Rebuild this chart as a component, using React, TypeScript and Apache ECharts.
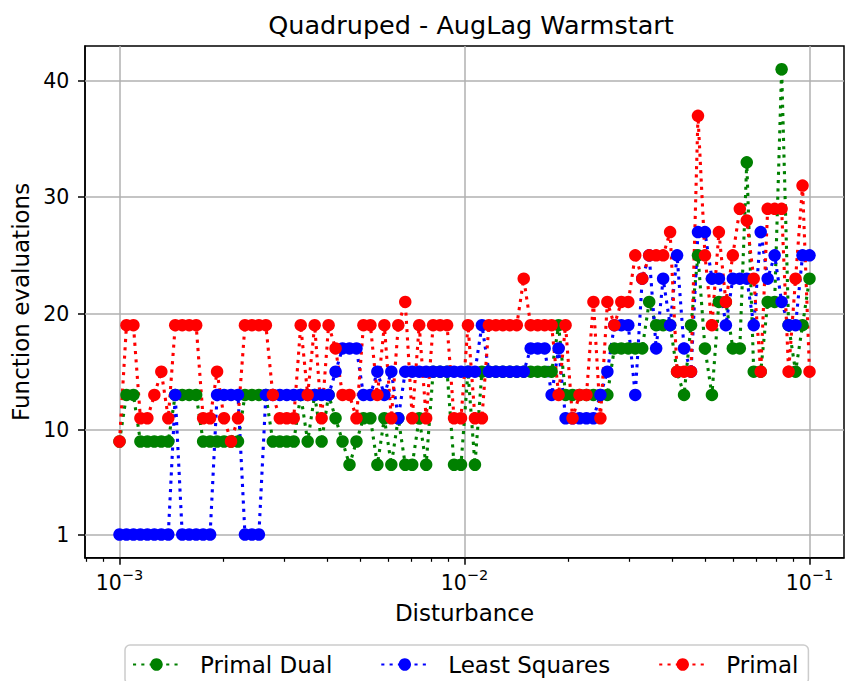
import React, { useEffect, useRef } from "react";
import * as echarts from "echarts";

// Disturbance grid: 100 log-spaced samples from 1e-3 to 1e-1
const nPoints = 100;
const disturbance: number[] = Array.from({ length: nPoints }, (_, i) => Math.pow(10, -3 + (2 * i) / (nPoints - 1)));

const primalDual = [
  9, 13, 13, 9, 9, 9, 9, 9, 13, 13,
  13, 13, 9, 9, 9, 9, 9, 9, 13, 13,
  13, 13, 9, 9, 9, 9, 13, 9, 13, 9,
  13, 11, 9, 7, 9, 11, 11, 7, 11, 7,
  11, 7, 7, 11, 7, 15, 15, 15, 7, 7,
  15, 7, 15, 15, 15, 15, 15, 15, 15, 15,
  15, 15, 15, 19, 13, 13, 13, 13, 13, 13,
  13, 17, 17, 17, 17, 17, 21, 19, 19, 19,
  15, 13, 19, 25, 17, 13, 21, 21, 17, 17,
  33, 15, 15, 21, 21, 41, 19, 15, 19, 23,
];

const leastSquares = [
  1, 1, 1, 1, 1, 1, 1, 1, 13, 1,
  1, 1, 1, 1, 13, 13, 13, 13, 1, 1,
  1, 13, 13, 13, 13, 13, 13, 13, 13, 13,
  13, 15, 17, 17, 17, 13, 13, 15, 13, 15,
  11, 15, 15, 15, 15, 15, 15, 15, 15, 15,
  15, 15, 19, 15, 15, 15, 15, 15, 15, 17,
  17, 17, 13, 17, 11, 11, 11, 11, 11, 13,
  15, 19, 19, 19, 13, 23, 25, 17, 23, 19,
  25, 17, 15, 27, 27, 23, 23, 19, 23, 23,
  23, 19, 27, 23, 25, 21, 19, 19, 25, 25,
];

const primal = [
  9, 19, 19, 11, 11, 13, 15, 11, 19, 19,
  19, 19, 11, 11, 15, 11, 9, 11, 19, 19,
  19, 19, 13, 11, 11, 11, 19, 13, 19, 11,
  19, 17, 13, 13, 11, 19, 19, 13, 19, 11,
  19, 21, 11, 19, 11, 19, 19, 19, 11, 11,
  19, 11, 11, 19, 19, 19, 19, 19, 23, 19,
  19, 19, 19, 13, 19, 11, 13, 13, 21, 11,
  21, 19, 21, 21, 25, 23, 25, 25, 25, 27,
  15, 15, 15, 37, 25, 19, 27, 21, 25, 29,
  28, 23, 15, 29, 29, 29, 15, 23, 31, 15,
];

const seriesNames = ["Primal Dual", "Least Squares", "Primal"];
const seriesColors = ["#008000", "#0000ff", "#ff0000"];
const yTicks = [1, 10, 20, 30, 40];
const xTickExponents = [-3, -2, -1];
const xMinorDecades = [-4, -3, -2];
const xMinorMultipliers = [2, 3, 4, 5, 6, 7, 8, 9];

const FONT = "DejaVu Sans";
const X_MIN = -3.1;
const X_MAX = -0.9;

const minorTicks: number[] = [];
xMinorDecades.forEach((d) =>
  xMinorMultipliers.forEach((k) => {
    const v = Math.log10(k) + d;
    if (v > X_MIN && v < X_MAX) minorTicks.push(v);
  })
);

const toPoints = (vals: number[]) => vals.map((v, i) => [Math.log10(disturbance[i]), v]);

const allSeries = [primalDual, leastSquares, primal];

export default function App() {
  const ref = useRef<HTMLDivElement>(null);
  useEffect(() => {
    const chart = echarts.init(ref.current!, null, { renderer: "svg" });
    const option: any = {
      animation: false,
      backgroundColor: "#ffffff",
      textStyle: { fontFamily: FONT },
      title: {
        text: "Quadruped - AugLag Warmstart",
        left: 466,
        top: 7,
        textAlign: "center",
        textStyle: { fontFamily: FONT, fontSize: 25.5, fontWeight: "normal", color: "#000", lineHeight: 25 },
      },
      grid: {
        left: 85,
        right: 1,
        top: 46,
        bottom: 123.2,
        show: true,
        borderColor: "#000",
        borderWidth: 1.5,
        backgroundColor: "transparent",
      },
      legend: {
        left: 125,
        top: 645,
        orient: "horizontal",
        itemWidth: 47,
        itemHeight: 15.6,
        itemGap: 48,
        padding: [8, 10, 8, 7],
        borderColor: "#cccccc",
        borderWidth: 1.5,
        borderRadius: 5,
        backgroundColor: "rgba(255,255,255,0.8)",
        textStyle: { fontFamily: FONT, fontSize: 23, color: "#000", padding: [0, 0, 0, 15] },
        data: seriesNames,
      },
      xAxis: [
        {
          type: "value",
          min: X_MIN,
          max: X_MAX,
          position: "bottom",
          axisLine: { show: true, onZero: false, lineStyle: { color: "#000", width: 1.5 } },
          axisTick: { show: true, customValues: xTickExponents, length: 7, lineStyle: { color: "#000", width: 1.5 } },
          axisLabel: {
            customValues: xTickExponents,
            margin: 10,
            formatter: (v: number) => `{b|10}{s|\u2212${Math.abs(Math.round(v))}}`,
            rich: {
              b: { fontFamily: FONT, fontSize: 20.5, color: "#000", lineHeight: 26, verticalAlign: "bottom" },
              s: { fontFamily: FONT, fontSize: 14.5, color: "#000", lineHeight: 14, verticalAlign: "top" },
            },
          },
          splitLine: { show: true, lineStyle: { color: "#b0b0b0", width: 1.5 } },
          name: "Disturbance",
          nameLocation: "middle",
          nameGap: 44,
          nameTextStyle: { fontFamily: FONT, fontSize: 23, color: "#000" },
        },
        {
          type: "value",
          min: X_MIN,
          max: X_MAX,
          position: "bottom",
          axisLine: { show: false, onZero: false },
          axisLabel: { show: false },
          splitLine: { show: false },
          axisTick: { show: true, customValues: minorTicks, length: 4, lineStyle: { color: "#000", width: 1.2 } },
        },
      ],
      yAxis: {
        type: "value",
        min: -1,
        max: 43,
        axisLine: { show: true, onZero: false, lineStyle: { color: "#000", width: 1.5 } },
        axisTick: { show: true, customValues: yTicks, length: 7, lineStyle: { color: "#000", width: 1.5 } },
        axisLabel: { customValues: yTicks, margin: 15.7, fontFamily: FONT, fontSize: 20.5, color: "#000" },
        splitLine: { show: false },
        name: "Function evaluations",
        nameLocation: "middle",
        nameGap: 50,
        nameTextStyle: { fontFamily: FONT, fontSize: 23, color: "#000" },
      },
      series: allSeries.map((vals, k) => ({
        name: seriesNames[k],
        type: "line",
        xAxisIndex: 0,
        yAxisIndex: 0,
        data: toPoints(vals),
        symbol: "circle",
        symbolSize: 12.5,
        showSymbol: true,
        showAllSymbol: true,
        itemStyle: { color: seriesColors[k] },
        lineStyle: { color: seriesColors[k], width: 3.1, type: [3.1, 5.2], cap: "butt" },
        emphasis: { disabled: true },
        ...(k === 0
          ? {
              markLine: {
                silent: true,
                z: 1,
                symbol: ["none", "none"],
                label: { show: false },
                emphasis: { disabled: true },
                lineStyle: { color: "#b0b0b0", width: 1.5, type: "solid" },
                data: yTicks.map((v) => ({ yAxis: v })),
              },
            }
          : {}),
      })),
    };
    chart.setOption(option);
    return () => chart.dispose();
  }, []);
  return (
    <div
      ref={ref}
      style={{ position: "fixed", left: 0, top: 0, width: 845, height: 681, background: "#fff" }}
    />
  );
}
